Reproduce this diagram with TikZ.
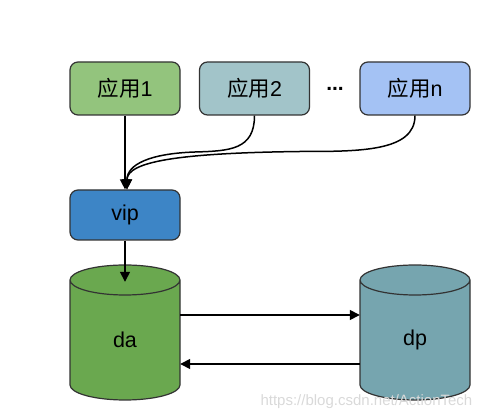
\documentclass[tikz,border=0pt]{standalone}
\usepackage{fontspec}
\setmainfont{Liberation Sans}
\newfontfamily\cjk{Noto Sans CJK SC}
\usetikzlibrary{arrows.meta}
\definecolor{cApp1}{HTML}{93C47D}
\definecolor{cApp2}{HTML}{A2C4C9}
\definecolor{cAppN}{HTML}{A4C2F4}
\definecolor{cVip}{HTML}{3D85C6}
\definecolor{cDa}{HTML}{6AA84F}
\definecolor{cDp}{HTML}{76A5AF}
\definecolor{cBorder}{HTML}{333333}
\tikzset{
  appbox/.style={draw=cBorder, line width=1.2pt, rounded corners=8pt,
    minimum width=110pt, minimum height=53pt, inner sep=0pt,
    font=\fontsize{21.5}{24}\selectfont},
  cylbody/.style={draw=cBorder, line width=1.2pt},
  lbl/.style={inner sep=0pt, minimum width=110pt, font=\fontsize{21.5}{24}\selectfont},
  arr/.style={line width=1.5pt, -{Triangle[length=10pt,width=10pt]}},
}
\begin{document}
\begin{tikzpicture}[x=1pt, y=1pt]
\useasboundingbox (0,0) rectangle (490,420);
% application boxes
\node[appbox, fill=cApp1] (app1) at (125,331.5) {{\cjk 应用}1};
\node[appbox, fill=cApp2] (app2) at (254.5,331.5) {{\cjk 应用}2};
\node[appbox, fill=cAppN] (appn) at (415,331.5) {{\cjk 应用}n};
\node[font=\fontsize{21}{24}\selectfont\bfseries] (dots) at (335,331) {...};
% vip
\node[appbox, fill=cVip, minimum height=50pt] (vip) at (125,205) {vip};
% cylinders
\fill[cDa] (70,140) -- (70,35) arc[start angle=180,end angle=360,x radius=55,y radius=15]
  -- (180,140) arc[start angle=0,end angle=180,x radius=55,y radius=15] -- cycle;
\draw[cylbody] (70,140) -- (70,35) arc[start angle=180,end angle=360,x radius=55,y radius=15]
  -- (180,140) arc[start angle=0,end angle=180,x radius=55,y radius=15]
  arc[start angle=180,end angle=360,x radius=55,y radius=15];
\fill[cDp] (360,140) -- (360,35) arc[start angle=180,end angle=360,x radius=55,y radius=15]
  -- (470,140) arc[start angle=0,end angle=180,x radius=55,y radius=15] -- cycle;
\draw[cylbody] (360,140) -- (360,35) arc[start angle=180,end angle=360,x radius=55,y radius=15]
  -- (470,140) arc[start angle=0,end angle=180,x radius=55,y radius=15]
  arc[start angle=180,end angle=360,x radius=55,y radius=15];
\node[lbl, minimum height=120pt] (da) at (125,80) {da};
\node[lbl, minimum height=120pt] (dp) at (415,80) {dp};
% connectors
\coordinate (m2) at (195,268);
\coordinate (mn) at (300,268.5);
\draw[arr] (app1.south) -- (vip.north);
\draw[arr] (app2.south) .. controls +(0,-34) and +(35,1) .. (m2)
  .. controls +(-45,-1.5) and +(0,25) .. ([xshift=2pt]vip.north);
\draw[arr] (appn.south) .. controls +(0,-36) and +(60,0) .. (mn)
  .. controls +(-120,-1.5) and +(0,28) .. ([xshift=2pt]vip.north);
\draw[arr] (vip.south) -- ([yshift=-2pt]da.north);
\draw[arr] ([yshift=25pt]da.east) -- ([yshift=25pt]dp.west);
\draw[arr] ([yshift=-24pt]dp.west) -- ([yshift=-24pt]da.east);
% watermark
\node[text=black!15, font=\fontsize{15}{17}\selectfont, anchor=west] (wm) at (257,18) {https://blog.csdn.net/ActionTech};
\end{tikzpicture}
\end{document}
